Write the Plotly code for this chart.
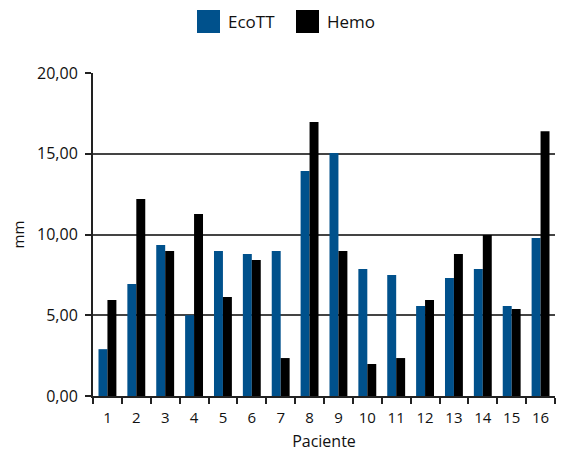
import plotly.graph_objects as go

pacientes = [str(i) for i in range(1, 17)]
ecott = [2.9, 6.93, 9.35, 5.0, 8.98, 8.79, 8.98, 13.93, 15.05, 7.86, 7.49, 5.57, 7.3, 7.86, 5.57, 9.78]
hemo = [5.95, 12.2, 8.98, 11.27, 6.13, 8.42, 2.35, 16.97, 8.98, 1.98, 2.35, 5.94, 8.79, 9.97, 5.39, 16.4]
series_names = ["EcoTT", "Hemo"]
colors = ["#00518C", "#000000"]
y_ticks = [0, 5, 10, 15, 20]

font = "Open Sans, Noto Sans, sans-serif"

fig = go.Figure()
fig.add_trace(go.Bar(x=pacientes, y=ecott, name=series_names[0], marker=dict(color=colors[0], line=dict(width=0))))
fig.add_trace(go.Bar(x=pacientes, y=hemo, name=series_names[1], marker=dict(color=colors[1], line=dict(width=0))))

fig.update_layout(
    width=558, height=444,
    margin=dict(l=85, r=11, t=65, b=56),
    paper_bgcolor="white", plot_bgcolor="white",
    barmode="group", bargap=0.38, bargroupgap=0,
    separators=",.",
    showlegend=False,
    font=dict(family=font, size=15, color="#111"),
    xaxis=dict(
        type="category", tickson="boundaries", ticks="outside", ticklen=6, tickwidth=2,
        tickcolor="#222", showline=True, linecolor="#222", linewidth=2,
        showgrid=False, tickfont=dict(size=15), tickangle=0, automargin=False,
        ticklabelstandoff=7,
        title=dict(text="Paciente", font=dict(size=16), standoff=10),
    ),
    yaxis=dict(
        range=[0, 20], tickvals=y_ticks, tickformat=".2f", ticks="outside", ticklen=6, tickwidth=2,
        tickcolor="#222", showline=True, linecolor="#222", linewidth=2,
        showgrid=True, gridcolor="#444", gridwidth=1.6, zeroline=False,
        tickfont=dict(size=16), automargin=False, ticklabelstandoff=4,
        title=dict(text="mm", font=dict(size=15), standoff=10),
    ),
)

# Legend drawn at the top, centred over the chart
legend_items = [(197, 226), (296, 325)]
for (sx, tx), name, col in zip(legend_items, series_names, colors):
    fig.add_shape(type="rect", xref="paper", yref="paper",
                  x0=(sx - 93) / 462, x1=(sx + 23 - 93) / 462,
                  y0=1 + (73 - 33) / 323, y1=1 + (73 - 10) / 323,
                  fillcolor=col, line=dict(width=0))
    fig.add_annotation(xref="paper", yref="paper", x=(tx - 93) / 462, y=1 + (73 - 21.5) / 323,
                       text=name, showarrow=False, xanchor="left", yanchor="middle",
                       font=dict(size=17, color="#111"))

fig.write_html("out.html")
